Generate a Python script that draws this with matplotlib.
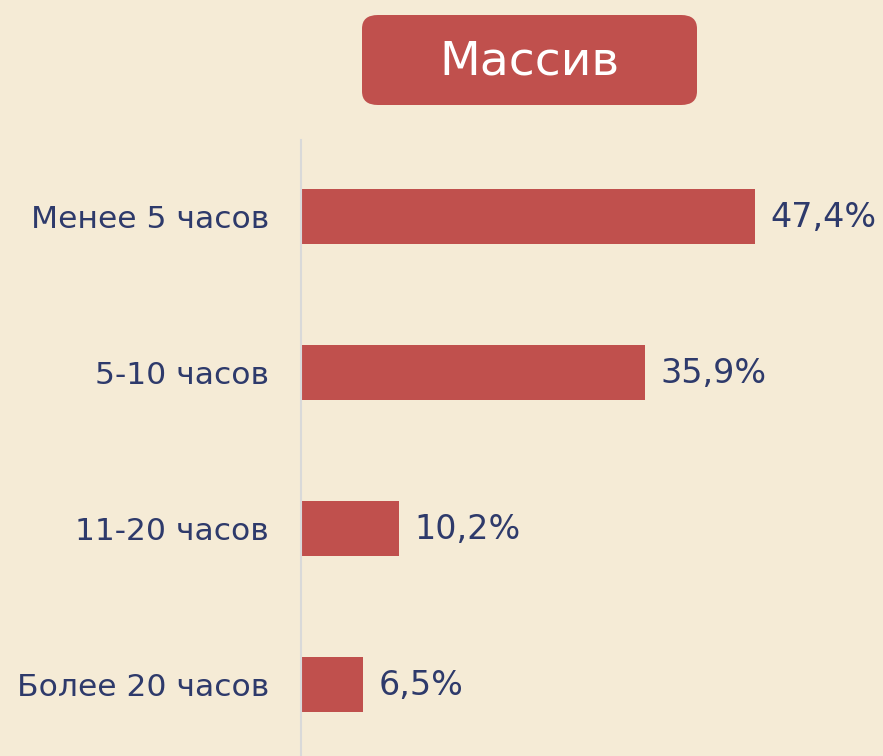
import matplotlib.pyplot as plt
from matplotlib.patches import FancyBboxPatch

# данные
categories = ['Менее 5 часов', '5-10 часов', '11-20 часов', 'Более 20 часов']
values = [47.4, 35.9, 10.2, 6.5]
labels = ['47,4%', '35,9%', '10,2%', '6,5%']
title = 'Массив'

bg = '#F5EBD6'
red = '#C0504D'
txt = '#2E3A6B'

fig = plt.figure(figsize=(8.83, 7.56), dpi=100, facecolor=bg)
ax = fig.add_axes([301 / 883, 0, 575 / 883, 616 / 756])
ax.set_facecolor(bg)

y = range(len(categories))
ax.barh(y, values, height=0.353, color=red)
for i, (v, l) in enumerate(zip(values, labels)):
    ax.text(v + 1.6, i + 0.01, l, va='center', ha='left', fontsize=24, color=txt)

ax.set_xlim(0, 60)
ax.set_ylim(3.46, -0.49)
ax.set_yticks(list(y))
ax.set_yticklabels(categories, fontsize=22.6, color=txt)
ax.tick_params(axis='y', length=0, pad=23)
ax.set_xticks([])
for s in ['top', 'right', 'bottom']:
    ax.spines[s].set_visible(False)
ax.spines['left'].set_color('#D9D9D9')
ax.spines['left'].set_linewidth(1.5)

# плашка с заголовком
box = FancyBboxPatch((362 / 883, 1 - 105 / 756), 335 / 883, 90 / 756,
                     boxstyle='round,pad=0,rounding_size=0.018',
                     transform=fig.transFigure, facecolor=red, edgecolor='none')
fig.patches.append(box)
fig.text(529.5 / 883, 1 - 62 / 756, title, ha='center', va='center',
         fontsize=34, color='white')

fig.savefig('out.png', dpi=100, facecolor=bg)
